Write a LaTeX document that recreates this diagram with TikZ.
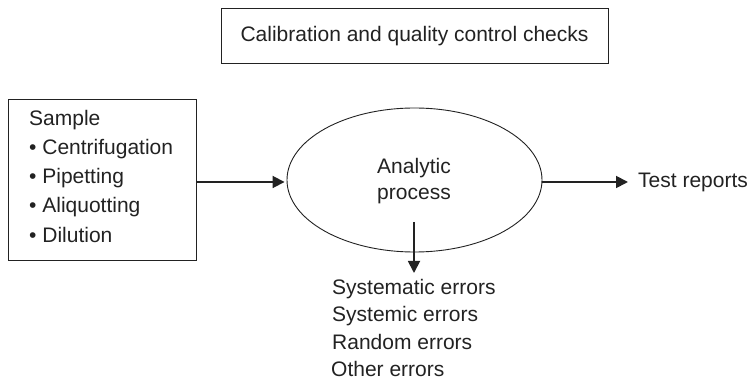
\documentclass[tikz,border=0pt]{standalone}
\usepackage{fontspec}
\setmainfont{Liberation Sans}
\usetikzlibrary{arrows.meta,shapes.geometric}
\definecolor{ink}{HTML}{222222}
\begin{document}
\begin{tikzpicture}[x=1pt,y=-1pt,
  txt/.style={font=\fontsize{21}{24}\selectfont, text=ink, inner sep=0pt,
    text height=15pt, text depth=4.5pt},
  boxframe/.style={draw=ink, line width=1pt},
  flow/.style={draw=ink, line width=1.8pt, -{Triangle[length=12pt,width=12pt]}}]
\useasboundingbox (0,0) rectangle (753,382);

% quality control box
\node[boxframe, minimum width=387pt, minimum height=55pt, inner sep=0pt] (qc) at (414.5,36.5) {};
\node[txt] (qct) at (qc.center) {Calibration and quality control checks};

% sample box with bullet list
\node[boxframe, minimum width=188pt, minimum height=161pt, inner sep=0pt] (sample) at (102,180.5) {};
\node[txt, anchor=west] (s0) at (29,120) {Sample};
\node[txt, anchor=west] (s1) at (29,149) {\textbullet\ Centrifugation};
\node[txt, anchor=west] (s2) at (29,178) {\textbullet\ Pipetting};
\node[txt, anchor=west] (s3) at (29,207) {\textbullet\ Aliquotting};
\node[txt, anchor=west] (s4) at (29,237) {\textbullet\ Dilution};

% analytic process ellipse
\node[draw=ink, line width=0.9pt, ellipse, minimum width=255pt, minimum height=144pt, inner sep=0pt] (proc) at (414.5,180) {};
\node[txt] (p1) at (414,168) {Analytic};
\node[txt] (p2) at (414,194) {process};

% outputs
\node[txt, anchor=west] (rep) at (638,182) {Test reports};
\coordinate (downtop) at (414,222);
\coordinate (downend) at (414,273);

\node[txt, anchor=west] (e1) at (332,289) {Systematic errors};
\node[txt, anchor=west] (e2) at (332,316) {Systemic errors};
\node[txt, anchor=west] (e3) at (332,344) {Random errors};
\node[txt, anchor=west] (e4) at (331,371) {Other errors};

% connectors
\draw[flow] (sample.east |- rep.west) -- ([xshift=-2pt]proc.west |- rep.west);
\draw[flow] (proc.east |- rep.west) -- ([xshift=-10pt]rep.west);
\draw[flow] (downtop) -- (downend);
\end{tikzpicture}
\end{document}
